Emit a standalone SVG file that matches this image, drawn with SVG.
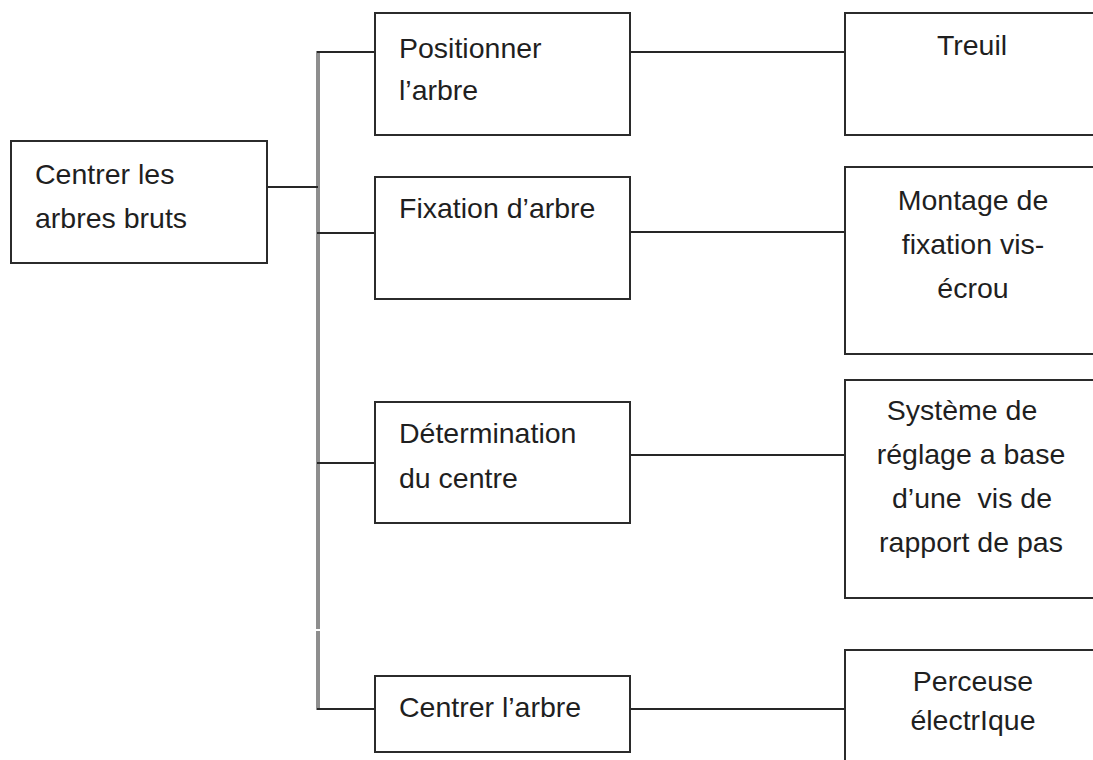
<svg xmlns="http://www.w3.org/2000/svg" width="1093" height="760" viewBox="0 0 1093 760">
  <style>
    .box { fill: #ffffff; stroke: #2b2b2b; stroke-width: 2; }
    .link { fill: none; stroke: #262626; stroke-width: 2; }
    .bus { fill: none; stroke: #8e8e8e; stroke-width: 4; }
    .lbl { font-family: "Liberation Sans", Arial, sans-serif; font-size: 28.5px; fill: #1f1f1f; white-space: pre; }
    .mid { text-anchor: middle; }
  </style>
  <rect width="1093" height="760" fill="#ffffff"/>

  <!-- connectors: trunk, branch links and vertical bus -->
  <g id="connectors">
    <line class="bus" x1="318" y1="51" x2="318" y2="629"/>
    <line class="bus" x1="318" y1="631" x2="318" y2="710"/>
    <line class="link" x1="267" y1="187" x2="318" y2="187"/>
    <line class="link" x1="317" y1="52" x2="375" y2="52"/>
    <line class="link" x1="317" y1="233" x2="375" y2="233"/>
    <line class="link" x1="317" y1="463" x2="375" y2="463"/>
    <line class="link" x1="317" y1="709" x2="375" y2="709"/>
    <line class="link" x1="630" y1="52" x2="845" y2="52"/>
    <line class="link" x1="630" y1="232" x2="845" y2="232"/>
    <line class="link" x1="630" y1="455" x2="845" y2="455"/>
    <line class="link" x1="630" y1="709" x2="845" y2="709"/>
  </g>

  <!-- root function -->
  <g id="root">
    <rect class="box" x="11" y="141" width="256" height="122"/>
    <text class="lbl" x="35" y="184">Centrer les</text>
    <text class="lbl" x="35" y="228">arbres bruts</text>
  </g>

  <!-- sub-functions -->
  <g id="positionner">
    <rect class="box" x="375" y="13" width="255" height="122"/>
    <text class="lbl" x="399" y="58">Positionner</text>
    <text class="lbl" x="399" y="100">l’arbre</text>
  </g>
  <g id="fixation">
    <rect class="box" x="375" y="177" width="255" height="122"/>
    <text class="lbl" x="399" y="218">Fixation d’arbre</text>
  </g>
  <g id="determination">
    <rect class="box" x="375" y="402" width="255" height="121"/>
    <text class="lbl" x="399" y="443">Détermination</text>
    <text class="lbl" x="399" y="488">du centre</text>
  </g>
  <g id="centrer-arbre">
    <rect class="box" x="375" y="676" width="255" height="76"/>
    <text class="lbl" x="399" y="717">Centrer l’arbre</text>
  </g>

  <!-- technical solutions -->
  <g id="treuil">
    <rect class="box" x="845" y="13" width="260" height="122"/>
    <text class="lbl mid" x="972" y="55">Treuil</text>
  </g>
  <g id="montage">
    <rect class="box" x="845" y="167" width="260" height="187"/>
    <text class="lbl mid" x="973" y="210">Montage de</text>
    <text class="lbl mid" x="973" y="254">fixation vis-</text>
    <text class="lbl mid" x="973" y="298">écrou</text>
  </g>
  <g id="systeme">
    <rect class="box" x="845" y="380" width="260" height="218"/>
    <text class="lbl mid" x="962" y="420">Système de</text>
    <text class="lbl mid" x="971" y="464">réglage a base</text>
    <text class="lbl mid" x="972" y="508">d’une  vis de</text>
    <text class="lbl mid" x="971" y="552">rapport de pas</text>
  </g>
  <g id="perceuse">
    <rect class="box" x="845" y="650" width="260" height="130"/>
    <text class="lbl mid" x="973" y="691">Perceuse</text>
    <text class="lbl mid" x="973" y="730">électrIque</text>
  </g>
</svg>
